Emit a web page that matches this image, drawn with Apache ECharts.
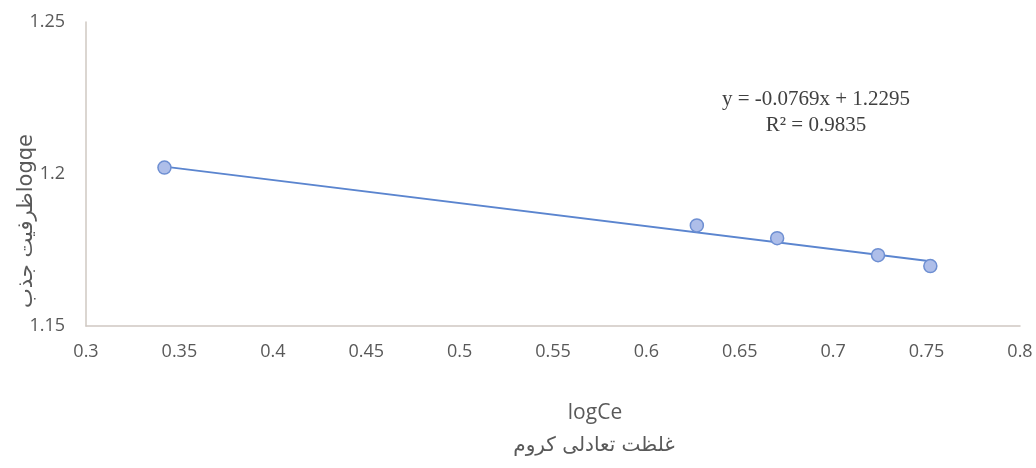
<!DOCTYPE html>
<html>
<head>
<meta charset="utf-8">
<script src="https://cdn.jsdelivr.net/npm/echarts@6/dist/echarts.min.js"></script>
<style>html,body{margin:0;padding:0;background:#fff}#c{width:1036px;height:468px}</style>
</head>
<body>
<div id="c"></div>
<script>
var logCe = [0.342, 0.627, 0.670, 0.724, 0.752];
var logqe = [1.2021, 1.1831, 1.1789, 1.1733, 1.1697];
var trendX = [0.342, 0.752];
var trendY = [1.2024, 1.1713];
var xTicks = [0.3, 0.8, 0.05];
var yTicks = [1.15, 1.25, 0.05];
var equation = 'y = -0.0769x + 1.2295';
var rsq = 'R² = 0.9835';
var xName = 'logCe';
var xNameFa = 'غلظت تعادلی کروم';
var yName = 'ظرفیت جذبlogqe';

var chart = echarts.init(document.getElementById('c'));
var labelColor = '#595959';
chart.setOption({
  animation: false,
  grid: {left: 86, right: 16, top: 22, bottom: 142},
  xAxis: {
    type: 'value', min: xTicks[0], max: xTicks[1], interval: xTicks[2],
    axisLine: {show: true, lineStyle: {color: '#cfc8c2', width: 1.5}},
    axisTick: {show: false}, splitLine: {show: false},
    axisLabel: {color: labelColor, fontFamily: 'Open Sans', fontSize: 18, margin: 17,
      formatter: function (v) { return String(+v.toFixed(2)); }}
  },
  yAxis: {
    type: 'value', min: yTicks[0], max: yTicks[1], interval: yTicks[2],
    axisLine: {show: true, lineStyle: {color: '#cfc8c2', width: 1.5}},
    axisTick: {show: false}, splitLine: {show: false},
    axisLabel: {color: labelColor, fontFamily: 'Open Sans', fontSize: 18, margin: 21,
      formatter: function (v) { return String(+v.toFixed(2)); }}
  },
  graphic: [
    {type: 'text', x: 27, y: 221, rotation: Math.PI / 2,
     style: {text: yName, font: '21px "DejaVu Sans"', fill: labelColor, align: 'center', verticalAlign: 'middle'}},
    {type: 'text', x: 595, y: 413,
     style: {text: xName, font: '21px "Open Sans"', fill: labelColor, align: 'center', verticalAlign: 'middle'}},
    {type: 'text', x: 594, y: 446,
     style: {text: xNameFa, font: '20px "DejaVu Sans"', fill: labelColor, align: 'center', verticalAlign: 'middle'}},
    {type: 'text', x: 816, y: 99,
     style: {text: equation, font: '21px "Liberation Serif"', fill: '#404040', align: 'center', verticalAlign: 'middle'}},
    {type: 'text', x: 816, y: 125,
     style: {text: rsq, font: '21px "Liberation Serif"', fill: '#404040', align: 'center', verticalAlign: 'middle'}}
  ],
  series: [
    {type: 'line', data: trendX.map(function (x, i) { return [x, trendY[i]]; }),
     showSymbol: false, symbol: 'none', lineStyle: {color: '#5b85cf', width: 1.8}, z: 2},
    {type: 'scatter', data: logCe.map(function (x, i) { return [x, logqe[i]]; }),
     symbol: 'circle', symbolSize: 13,
     itemStyle: {color: '#aebee9', borderColor: '#6e8fd2', borderWidth: 1.5, opacity: 1}, z: 3}
  ]
});
</script>
</body>
</html>
